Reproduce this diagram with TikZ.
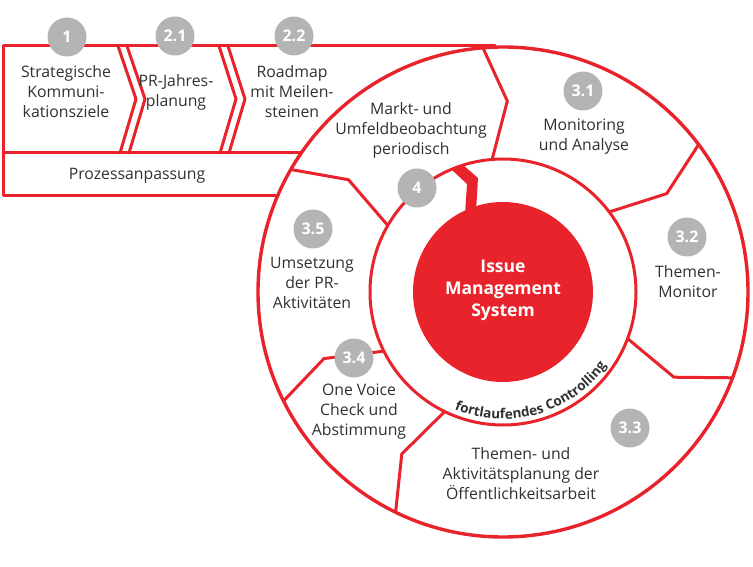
\documentclass[tikz,border=0pt]{standalone}
\usepackage{fontspec}
\setmainfont{Open Sans}
\usetikzlibrary{calc,decorations.text}
\definecolor{ired}{HTML}{E8232B}
\definecolor{igrey}{HTML}{B4B4B4}
\definecolor{itext}{HTML}{303030}
\begin{document}
\begin{tikzpicture}[x=1pt,y=-1pt,
  redline/.style={draw=ired,line width=3pt,line join=round,line cap=round},
  badge/.style={circle,fill=igrey,minimum size=39pt,inner sep=0pt,text=white,font=\fontsize{16}{16}\selectfont\bfseries},
  lbl/.style={align=center,text=itext,font=\fontsize{15.8}{20}\selectfont,inner sep=0pt},
  core/.style={align=center,text=white,font=\fontsize{17.5}{22}\selectfont\bfseries,inner sep=0pt},
]
\useasboundingbox (0,0) rectangle (753,567);
\coordinate (C) at (503,292);
% strip of chevrons
\draw[redline] (495,46) -- (3,46) -- (3,196) -- (278,196);
\draw[redline] (3,153) -- (301,153);
\draw[redline] (118,46) -- (136,99) -- (120,153);
\draw[redline] (127,46) -- (145,99) -- (129,153);
\draw[redline] (219,46) -- (236,99) -- (220,153);
\draw[redline] (228,46) -- (245,99) -- (229,153);
% circles
\draw[redline,line width=3.4pt] (C) circle[radius=245pt];
\draw[redline] (C) circle[radius=133pt];
\fill[ired] (C) circle[radius=90pt];
% connector between ring and core
\fill[ired] (452,170) -- (467,184) -- (465,214) -- (476,212) -- (478,178) -- (463,165) -- cycle;
% dividers in the ring
\foreach \a in {94.7,37,-20.5,-116,206.4,150}
  \draw[redline] ($(C)+(\a:245pt)$) -- ($(C)+(\a-6:191pt)$) -- ($(C)+(\a:133pt)$);
% curved label
\path[decorate,decoration={text along path,text align=center,
  text={|\fontsize{13.5}{13.5}\selectfont\bfseries\color{itext}|fortlaufendes Controlling}}]
  ($(C)+(-124:127pt)$) arc[start angle=-124,end angle=-24,radius=127pt];
% badges
\node[badge] (b1) at (67,37) {1};
\node[badge] (b21) at (175,36) {2.1};
\node[badge] (b22) at (294,36) {2.2};
\node[badge] (b31) at (583,91) {3.1};
\node[badge] (b32) at (687,237) {3.2};
\node[badge] (b33) at (630,428) {3.3};
\node[badge] (b34) at (354,358) {3.4};
\node[badge] (b35) at (313,229) {3.5};
\node[badge] (b4) at (417,188) {4};
% labels
\node[lbl] (t1) at (66,92) {Strategische\\Kommuni-\\kationsziele};
\node[lbl] (t21) at (176,92) {PR-Jahres-\\planung};
\node[lbl] (t22) at (292,92) {Roadmap\\mit Meilen-\\steinen};
\node[lbl] (t4) at (411,130) {Markt- und\\Umfeldbeobachtung\\periodisch};
\node[lbl] (t31) at (584,137) {Monitoring\\und Analyse};
\node[lbl] (t32) at (688,282) {Themen-\\Monitor};
\node[lbl] (t33) at (521,474) {Themen- und\\Aktivitätsplanung der\\Öffentlichkeitsarbeit};
\node[lbl] (t34) at (359,412) {One Voice\\Check und\\Abstimmung};
\node[lbl] (t35) at (312,283) {Umsetzung\\der PR-\\Aktivitäten};
\node[lbl] (tp) at (137,176) {Prozessanpassung};
\node[core] (core) at (503,290) {Issue\\Management\\System};
\end{tikzpicture}
\end{document}
